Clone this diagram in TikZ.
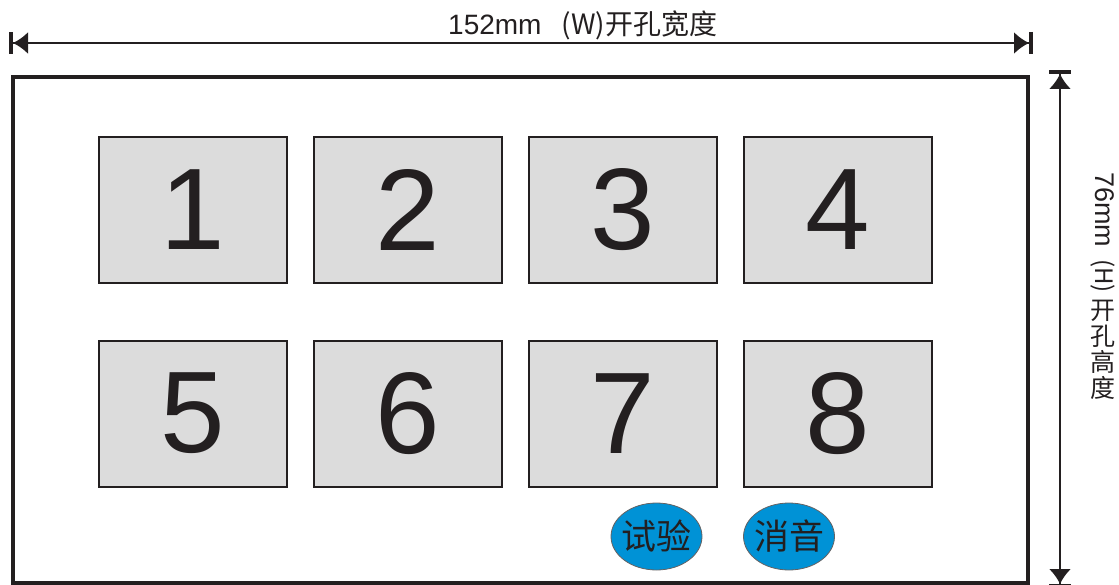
\documentclass[tikz,border=0pt]{standalone}
\usepackage{fontspec}
\setmainfont{Liberation Sans}
\newfontfamily\cjk{Noto Sans CJK SC}
\usetikzlibrary{arrows.meta}
\usetikzlibrary{shapes.geometric}
\definecolor{keygray}{HTML}{DCDCDC}
\definecolor{inkblack}{HTML}{231F20}
\definecolor{btnblue}{HTML}{0092D6}
\tikzset{
  key/.style={draw=inkblack, line width=2pt, fill=keygray, minimum width=188pt, minimum height=146pt, inner sep=0pt, text=inkblack, font=\fontsize{116}{116}\selectfont},
  btn/.style={ellipse, draw=inkblack!70, line width=0.8pt, fill=btnblue, minimum width=91pt, minimum height=67pt, inner sep=-6pt, text=inkblack, font=\cjk\fontsize{35}{35}\selectfont},
  dimline/.style={inkblack, line width=2pt, {Bar[width=22pt,line width=4pt]Latex[length=15pt,width=22pt]}-{Latex[length=15pt,width=22pt]Bar[width=22pt,line width=4pt]}}
}

\begin{document}
\begin{tikzpicture}[x=1pt,y=-1pt]
\useasboundingbox (0,0) rectangle (1119,585);
% panel cut-out
\draw[inkblack, line width=4pt] (13,77.5) rectangle (1028,583);
% dimension lines
\coordinate (wl) at (9,43);
\coordinate (wr) at (1033,43);
\coordinate (ht) at (1060,70);
\coordinate (hb) at (1060,588);
\draw[dimline] (wl) -- (wr);
\draw[dimline] (ht) -- (hb);
\node[anchor=base west, inner sep=0pt, text=inkblack, font=\fontsize{28}{28}\selectfont] (wlabel) at (448,35) {152mm\hspace{20pt}{\cjk (W)开孔宽度}};
\node[anchor=west, rotate=-90, inner sep=0pt, text=inkblack, font=\fontsize{27}{27}\selectfont] (hlabel) at (1103,172) {76mm\hspace{12pt}{\cjk\fontsize{24}{24}\selectfont (H)}};
\node[anchor=north, align=center, inner sep=0pt, text=inkblack, font=\cjk\fontsize{25}{26}\selectfont] (hcjk) at (1103,300) {开\\孔\\高\\度};
% keys
\node[key] (k1) at (193,210) {1};
\node[key] (k2) at (408,210) {2};
\node[key] (k3) at (623,210) {3};
\node[key] (k4) at (838,210) {4};
\node[key] (k5) at (193,413.5) {5};
\node[key] (k6) at (408,413.5) {6};
\node[key] (k7) at (623,413.5) {7};
\node[key] (k8) at (838,413.5) {8};
% buttons
\node[btn] (test) at (656.5,536.5) {试验};
\node[btn] (mute) at (789,536.5) {消音};
\end{tikzpicture}
\end{document}
